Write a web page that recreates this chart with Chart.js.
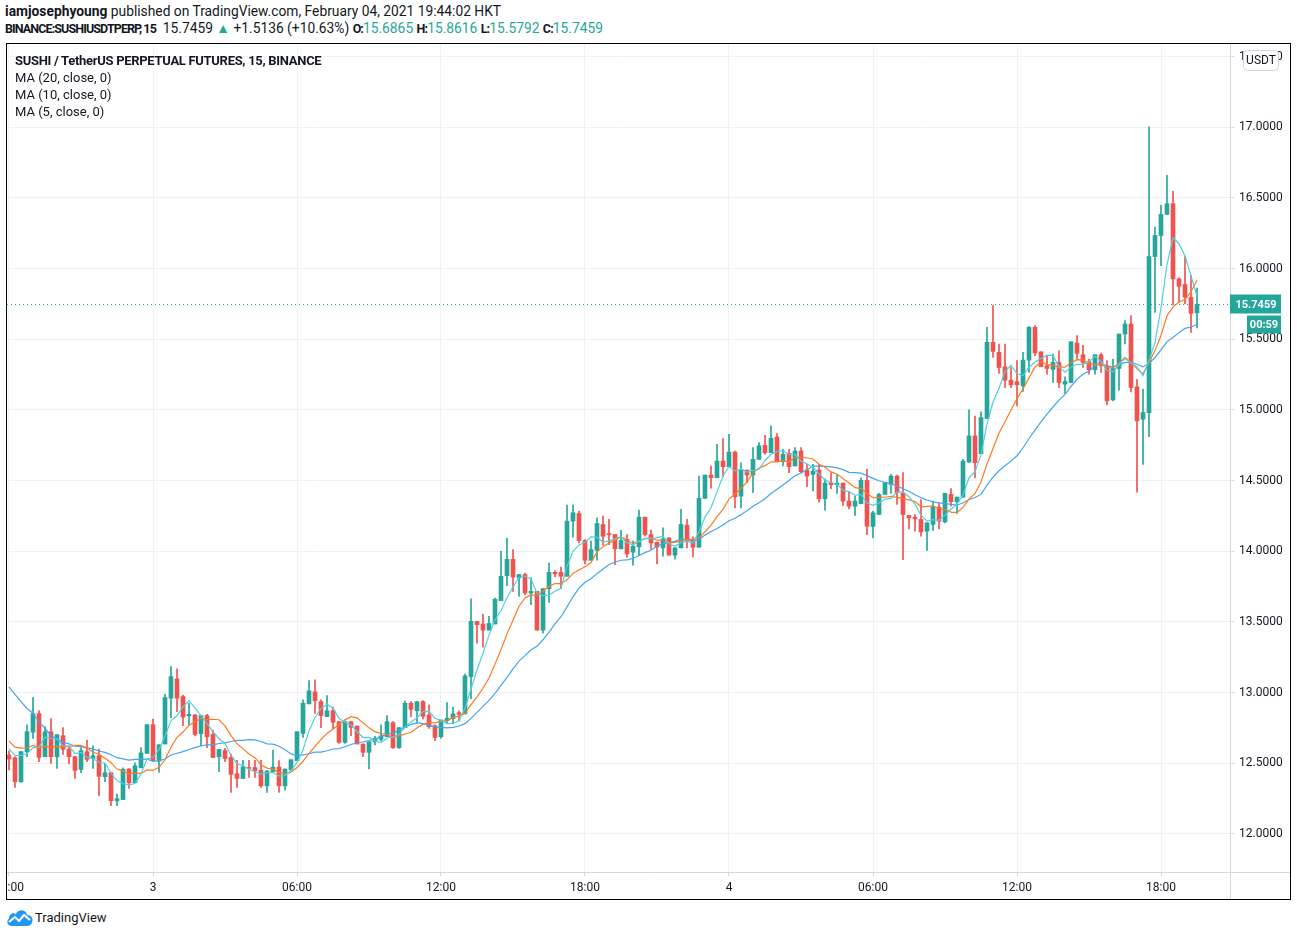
<!DOCTYPE html>
<html>
<head>
<meta charset="utf-8">
<title>SUSHIUSDTPERP, 15</title>
<script src="https://cdn.jsdelivr.net/npm/chart.js@4.4.1/dist/chart.umd.min.js"></script>
<style>
  body { margin: 0; width: 1297px; height: 936px; background: #fff; color: #131722;
         font-family: Roboto, "Noto Sans", sans-serif; position: relative; overflow: hidden; }
  .hdr { position: absolute; left: 5px; font-size: 13.8px; line-height: 17px; white-space: nowrap; }
  #l1 { top: 3px; }
  #l2 { top: 20px; }
  .sb { font-weight: 700; }
  .nb { font-weight: 700; font-size: 12.5px; letter-spacing: -0.9px; }
  .g { color: #26a69a; }
  #box { position: absolute; left: 6px; top: 43px; width: 1285px; height: 857px;
         box-sizing: border-box; border: 1px solid #000; }
  #box canvas { display: block; }
  .leg { position: absolute; left: 8px; font-size: 13px; line-height: 17px; white-space: nowrap; }
  #logo { position: absolute; left: 6px; top: 906px; height: 22px; display: flex; align-items: center;
          font-size: 13px; }
  #logo svg { margin-right: 2px; }
</style>
</head>
<body>
<div class="hdr" id="l1"><span class="sb">iamjosephyoung</span> published on TradingView.com, February 04, 2021 19:44:02 HKT</div>
<div class="hdr" id="l2"><span class="nb">BINANCE:SUSHIUSDTPERP, 15</span>&nbsp; 15.7459 <span class="g">&#9650;</span> +1.5136 (+10.63%) <span class="nb">O:</span><span class="g">15.6865</span> <span class="nb">H:</span><span class="g">15.8616</span> <span class="nb">L:</span><span class="g">15.5792</span> <span class="nb">C:</span><span class="g">15.7459</span></div>

<div id="box">
  <canvas id="chart" width="1283" height="855"></canvas>
  <div class="leg sb" style="top:8px; letter-spacing:-0.3px">SUSHI / TetherUS PERPETUAL FUTURES, 15, BINANCE</div>
  <div class="leg" style="top:25px">MA (20, close, 0)</div>
  <div class="leg" style="top:42px">MA (10, close, 0)</div>
  <div class="leg" style="top:59px">MA (5, close, 0)</div>
</div>

<div id="logo">
  <svg width="27" height="17" viewBox="0 0 27 17">
    <path d="M6 17 C1 17 0 12 3 9.5 C3 5 7 3 10 5 C12 0 20 0 21 6 C25 6 27 9 26.5 12 C26 15 24 17 21 17 Z" fill="#2196f3"/>
    <polyline points="3,13 9,8 13,12 18,6 24,11" fill="none" stroke="#fff" stroke-width="2"/>
  </svg>
  <span>TradingView</span>
</div>

<script>
// 15 minute candles, 18:00 Feb 2 to 19:30 Feb 4 (HKT)
const open = [
  12.558,12.539,12.369,12.582,12.720,12.851,12.546,12.723,12.546,12.695,
  12.598,12.546,12.456,12.582,12.535,12.553,12.405,12.433,12.234,12.243,
  12.459,12.362,12.468,12.570,12.773,12.515,12.636,12.960,13.097,12.972,
  12.835,12.842,12.709,12.837,12.704,12.546,12.590,12.541,12.426,12.392,
  12.470,12.470,12.451,12.340,12.440,12.473,12.340,12.454,12.518,12.711,
  12.920,13.005,12.936,12.830,12.872,12.794,12.648,12.794,12.763,12.636,
  12.577,12.652,12.669,12.688,12.787,12.610,12.752,12.924,12.872,12.936,
  12.842,12.766,12.688,12.801,12.816,12.858,12.849,13.113,13.503,13.485,
  13.442,13.485,13.650,13.827,13.943,13.811,13.835,13.704,13.716,13.442,
  13.735,13.851,13.851,13.823,14.213,14.267,14.076,13.936,14.007,14.189,
  14.125,14.118,14.017,14.085,13.993,14.031,14.241,14.118,14.064,14.024,
  14.094,13.972,14.024,14.184,14.078,14.028,14.374,14.539,14.520,14.638,
  14.598,14.702,14.390,14.574,14.539,14.650,14.749,14.697,14.808,14.634,
  14.693,14.603,14.709,14.574,14.544,14.574,14.371,14.485,14.470,14.482,
  14.355,14.319,14.336,14.501,14.175,14.260,14.402,14.473,14.532,14.409,
  14.253,14.241,14.225,14.142,14.189,14.312,14.208,14.402,14.350,14.383,
  14.631,14.816,14.690,14.939,15.478,15.407,15.305,15.210,15.200,15.170,
  15.352,15.584,15.411,15.312,15.286,15.336,15.182,15.194,15.473,15.390,
  15.340,15.284,15.390,15.312,15.071,15.293,15.537,15.608,15.163,14.934,
  14.981,16.085,16.234,16.383,16.459,15.927,15.887,15.797,15.6865
];
const high = [
  12.586,12.545,12.582,12.771,12.965,12.872,12.759,12.816,12.702,12.752,
  12.624,12.550,12.610,12.664,12.624,12.600,12.499,12.436,12.281,12.468,
  12.462,12.503,12.610,12.773,12.813,12.631,12.990,13.184,13.168,12.983,
  12.924,12.846,12.837,12.846,12.735,12.598,12.605,12.565,12.520,12.520,
  12.520,12.520,12.520,12.447,12.593,12.518,12.459,12.525,12.723,12.948,
  13.085,13.090,12.948,12.979,12.898,12.794,12.800,12.794,12.763,12.636,
  12.652,12.690,12.771,12.837,12.794,12.752,12.940,12.936,12.936,12.943,
  12.913,12.771,12.806,12.929,12.898,12.870,13.130,13.664,13.504,13.556,
  13.539,13.669,14.000,14.092,14.012,13.835,13.846,13.811,13.716,13.735,
  13.917,13.863,13.887,14.326,14.326,14.284,14.083,14.071,14.236,14.248,
  14.225,14.118,14.147,14.118,14.071,14.291,14.241,14.149,14.064,14.166,
  14.099,14.024,14.296,14.225,14.102,14.532,14.539,14.603,14.756,14.797,
  14.827,14.709,14.626,14.574,14.733,14.768,14.820,14.887,14.832,14.721,
  14.721,14.733,14.733,14.615,14.615,14.615,14.513,14.556,14.539,14.482,
  14.418,14.390,14.520,14.579,14.284,14.409,14.485,14.544,14.539,14.556,
  14.253,14.260,14.366,14.201,14.355,14.343,14.409,14.444,14.383,14.650,
  15.000,14.957,14.986,15.584,15.738,15.466,15.466,15.300,15.348,15.407,
  15.589,15.596,15.411,15.383,15.395,15.418,15.234,15.482,15.525,15.456,
  15.359,15.390,15.402,15.348,15.359,15.537,15.631,15.667,15.217,15.147,
  17.002,16.293,16.447,16.660,16.546,15.934,16.085,15.950,15.8616
];
const low = [
  12.452,12.329,12.364,12.546,12.676,12.511,12.546,12.499,12.463,12.563,
  12.496,12.392,12.433,12.511,12.463,12.270,12.369,12.199,12.199,12.243,
  12.322,12.362,12.468,12.570,12.518,12.435,12.636,12.823,12.865,12.766,
  12.771,12.693,12.624,12.610,12.540,12.440,12.511,12.293,12.329,12.392,
  12.400,12.400,12.329,12.293,12.440,12.293,12.310,12.450,12.518,12.683,
  12.920,12.853,12.752,12.830,12.742,12.641,12.641,12.695,12.636,12.546,
  12.459,12.629,12.657,12.688,12.605,12.605,12.752,12.830,12.790,12.813,
  12.747,12.660,12.676,12.782,12.778,12.800,12.849,12.957,13.350,13.322,
  13.442,13.485,13.650,13.757,13.716,13.681,13.693,13.622,13.442,13.420,
  13.638,13.820,13.735,13.823,14.099,14.059,13.910,13.936,13.936,14.043,
  14.047,13.905,14.017,13.957,13.901,13.972,14.106,14.012,13.910,13.965,
  13.972,13.943,14.024,14.024,13.960,14.028,14.374,14.447,14.520,14.527,
  14.598,14.307,14.307,14.485,14.414,14.650,14.686,14.697,14.634,14.603,
  14.556,14.603,14.556,14.456,14.426,14.347,14.291,14.442,14.409,14.324,
  14.300,14.253,14.336,14.118,14.095,14.260,14.402,14.409,14.331,13.941,
  14.158,14.142,14.106,14.005,14.147,14.158,14.201,14.319,14.267,14.383,
  14.626,14.520,14.690,14.939,15.371,15.258,15.158,15.158,15.028,15.130,
  15.265,15.383,15.305,15.253,15.194,15.158,15.116,15.194,15.359,15.300,
  15.253,15.253,15.265,15.035,15.064,15.140,15.466,15.128,14.418,14.615,
  14.811,15.690,16.021,16.383,15.742,15.761,15.749,15.548,15.5792
];
const close = [
  12.530,12.369,12.582,12.723,12.851,12.541,12.723,12.546,12.702,12.598,
  12.546,12.449,12.589,12.527,12.553,12.407,12.433,12.234,12.250,12.456,
  12.362,12.482,12.574,12.773,12.518,12.631,12.965,13.113,12.960,12.827,
  12.846,12.704,12.837,12.688,12.541,12.598,12.534,12.421,12.392,12.475,
  12.463,12.447,12.340,12.447,12.473,12.340,12.459,12.525,12.723,12.924,
  13.012,12.943,12.837,12.872,12.790,12.648,12.794,12.754,12.636,12.577,
  12.652,12.676,12.693,12.794,12.610,12.752,12.924,12.882,12.936,12.832,
  12.759,12.683,12.806,12.818,12.849,12.846,13.118,13.504,13.480,13.442,
  13.489,13.660,13.823,13.943,13.818,13.835,13.704,13.716,13.442,13.735,
  13.851,13.839,13.823,14.213,14.272,14.076,13.936,14.012,14.196,14.106,
  14.116,14.017,14.076,13.981,14.035,14.241,14.118,14.059,14.031,14.087,
  13.972,14.024,14.189,14.078,14.028,14.374,14.539,14.520,14.638,14.598,
  14.702,14.385,14.579,14.539,14.650,14.745,14.697,14.799,14.634,14.686,
  14.598,14.709,14.563,14.532,14.567,14.371,14.482,14.470,14.482,14.355,
  14.319,14.355,14.501,14.177,14.272,14.402,14.485,14.532,14.414,14.260,
  14.236,14.229,14.137,14.201,14.314,14.213,14.409,14.350,14.383,14.638,
  14.816,14.626,14.946,15.478,15.414,15.300,15.210,15.177,15.177,15.352,
  15.584,15.402,15.305,15.293,15.336,15.194,15.201,15.482,15.400,15.336,
  15.284,15.390,15.312,15.064,15.293,15.537,15.608,15.158,14.922,14.981,
  16.085,16.234,16.383,16.459,15.927,15.875,15.797,15.683,15.7459
];
// closes before the visible window (off screen), only needed to seed the moving averages
const priorCloses = [
  13.45,13.60,13.70,13.52,13.75,13.65,13.55,13.25,13.00,12.78,
  12.80,12.65,12.70,12.68,12.72,12.62,12.58,12.66,12.63
];

const timeTicks = [0, 24, 48, 72, 96, 120, 144, 168, 192];
const timeLabels = ['18:00', '3', '06:00', '12:00', '18:00', '4', '06:00', '12:00', '18:00'];
const priceTicks = [12, 12.5, 13, 13.5, 14, 14.5, 15, 15.5, 16, 16.5, 17, 17.5];
const lastPrice = 15.7459;
const countdown = '00:59';

const upColor = '#26a69a';
const downColor = '#ef5350';
const fontFamily = 'Roboto, "Noto Sans", sans-serif';

// simple moving average of the close
function movingAverage(n) {
    const all = priorCloses.concat(close);
    const off = priorCloses.length;
    return close.map(function (_, i) {
        let s = 0;
        for (let k = i + off - n + 1; k <= i + off; k++) s += all[k];
        return s / n;
    });
}

const ma5 = movingAverage(5);
const ma10 = movingAverage(10);
const ma20 = movingAverage(20);

const idx = close.map((_, i) => i);
const candleColor = idx.map(i => close[i] >= open[i] ? upColor : downColor);

// axis lines, time labels, last price marker, currency box
const overlay = {
    id: 'overlay',
    afterDraw(chart) {
        const ctx = chart.ctx;
        const area = chart.chartArea;
        const xs = chart.scales.x;
        const ys = chart.scales.y;
        ctx.save();

        ctx.strokeStyle = '#d6d8de';
        ctx.lineWidth = 1;
        ctx.beginPath();
        ctx.moveTo(0, area.bottom + 0.5);
        ctx.lineTo(chart.width, area.bottom + 0.5);
        ctx.moveTo(area.right + 0.5, 0);
        ctx.lineTo(area.right + 0.5, chart.height);
        ctx.stroke();

        ctx.fillStyle = '#131722';
        ctx.font = '12px ' + fontFamily;
        ctx.textAlign = 'center';
        ctx.textBaseline = 'middle';
        timeTicks.forEach(function (t, k) {
            ctx.fillText(timeLabels[k], xs.getPixelForValue(t), area.bottom + 16);
        });

        const py = Math.round(ys.getPixelForValue(lastPrice)) + 0.5;
        ctx.strokeStyle = upColor;
        ctx.setLineDash([1, 3]);
        ctx.beginPath();
        ctx.moveTo(area.left, py);
        ctx.lineTo(area.right, py);
        ctx.stroke();
        ctx.setLineDash([]);

        ctx.fillStyle = upColor;
        ctx.fillRect(area.right, py - 10, 51, 19);
        ctx.fillRect(area.right + 17, py + 11, 34, 18);
        ctx.fillStyle = '#fff';
        ctx.font = 'bold 11px ' + fontFamily;
        ctx.fillText(lastPrice.toFixed(4), area.right + 26, py + 0.5);
        ctx.fillText(countdown, area.right + 34, py + 20.5);

        ctx.fillStyle = '#fff';
        ctx.strokeStyle = '#d1d4dc';
        ctx.beginPath();
        ctx.roundRect(area.right + 13.5, 6.5, 35, 20, 4);
        ctx.fill();
        ctx.stroke();
        ctx.fillStyle = '#131722';
        ctx.font = '12px ' + fontFamily;
        ctx.fillText('USDT', area.right + 31, 17);

        ctx.restore();
    }
};

new Chart(document.getElementById('chart'), {
    type: 'bar',
    data: {
        datasets: [
            {
                type: 'line', label: 'MA (5, close, 0)',
                data: idx.map(i => ({ x: i, y: ma5[i] })),
                borderColor: '#4fcfe0', borderWidth: 1.2, pointRadius: 0, order: 0
            },
            {
                type: 'line', label: 'MA (10, close, 0)',
                data: idx.map(i => ({ x: i, y: ma10[i] })),
                borderColor: '#ff7a1f', borderWidth: 1.2, pointRadius: 0, order: 0
            },
            {
                type: 'line', label: 'MA (20, close, 0)',
                data: idx.map(i => ({ x: i, y: ma20[i] })),
                borderColor: '#42a5f5', borderWidth: 1.2, pointRadius: 0, order: 0
            },
            {
                label: 'body',
                data: idx.map(i => ({ x: i, y: [open[i], close[i]] })),
                backgroundColor: candleColor, barThickness: 4, minBarLength: 1,
                grouped: false, order: 1
            },
            {
                label: 'wick',
                data: idx.map(i => ({ x: i, y: [low[i], high[i]] })),
                backgroundColor: candleColor, barThickness: 1,
                grouped: false, order: 2
            }
        ]
    },
    options: {
        responsive: false,
        animation: false,
        events: [],
        layout: { padding: 0 },
        plugins: { legend: { display: false }, tooltip: { enabled: false } },
        scales: {
            x: {
                type: 'linear',
                min: -1 / 3,
                max: 203.5,
                offset: false,
                afterBuildTicks: s => { s.ticks = timeTicks.map(v => ({ value: v })); },
                afterFit: s => { s.height = 27; s.paddingLeft = 0; s.paddingRight = 0; },
                ticks: { display: false },
                grid: { offset: false, color: '#eff1f5', tickLength: 4, tickColor: '#d1d4dc' },
                border: { display: false }
            },
            y: {
                position: 'right',
                min: 11.7305,
                max: 17.5887,
                afterBuildTicks: s => { s.ticks = priceTicks.map(v => ({ value: v })); },
                afterFit: s => { s.width = 60; s.paddingTop = 0; s.paddingBottom = 0; },
                ticks: {
                    color: '#131722',
                    font: { family: fontFamily, size: 12 },
                    padding: 5,
                    callback: v => Number(v).toFixed(4)
                },
                grid: { color: '#eff1f5', tickLength: 4, tickColor: '#d1d4dc' },
                border: { display: false }
            }
        }
    },
    plugins: [overlay]
});
</script>
</body>
</html>
